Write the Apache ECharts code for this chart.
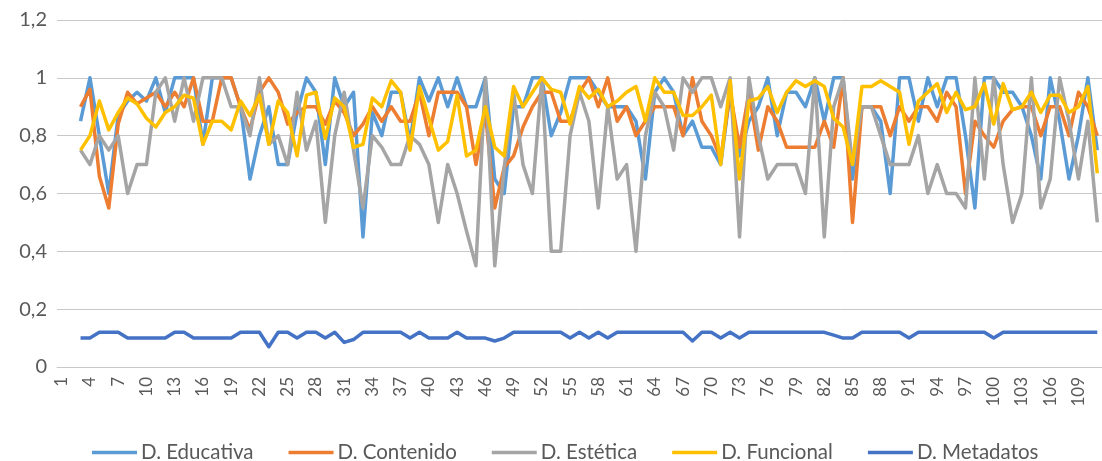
<!DOCTYPE html>
<html>
<head>
<meta charset="utf-8">
<script src="https://cdn.jsdelivr.net/npm/echarts@6/dist/echarts.min.js"></script>
<style>
  html, body { margin: 0; padding: 0; background: #fff; }
  #main { width: 1102px; height: 461px; }
</style>
</head>
<body>
<div id="main"></div>
<script>
// categorias 1..111 (las dos primeras sin datos)
var categorias = Array.from({ length: 111 }, function (_, i) { return String(i + 1); });

var educativa = [null, null,
  0.85,1.0,0.8,0.6,0.87,0.92,0.95,0.92,1.0,0.88,
  1.0,1.0,1.0,0.77,1.0,1.0,1.0,0.9,0.65,0.8,
  0.9,0.7,0.7,0.88,1.0,0.95,0.7,1.0,0.9,0.95,
  0.45,0.88,0.8,0.95,0.95,0.78,1.0,0.92,1.0,0.9,
  1.0,0.9,0.9,1.0,0.65,0.6,0.9,0.9,1.0,1.0,
  0.8,0.88,1.0,1.0,1.0,0.95,0.9,0.9,0.9,0.85,
  0.65,0.95,1.0,0.95,0.8,0.85,0.76,0.76,0.7,0.95,
  0.73,0.85,0.9,1.0,0.8,0.95,0.95,0.9,1.0,0.85,
  1.0,1.0,0.65,0.9,0.9,0.85,0.6,1.0,1.0,0.85,
  1.0,0.9,1.0,1.0,0.8,0.55,1.0,1.0,0.95,0.95,
  0.9,0.8,0.65,1.0,0.85,0.65,0.8,1.0,0.75];

var contenido = [null, null,
  0.9,0.96,0.66,0.55,0.84,0.95,0.91,0.93,0.95,0.9,
  0.95,0.9,1.0,0.85,0.85,1.0,1.0,0.9,0.82,0.95,
  1.0,0.95,0.84,0.88,0.9,0.9,0.84,0.92,0.88,0.8,
  0.84,0.9,0.85,0.9,0.85,0.85,0.95,0.8,0.95,0.95,
  0.95,0.9,0.7,0.88,0.55,0.69,0.73,0.83,0.9,0.95,
  0.95,0.85,0.85,0.95,1.0,0.9,1.0,0.85,0.9,0.8,
  0.85,0.9,0.9,0.9,0.8,1.0,0.85,0.8,0.72,0.95,
  0.76,0.95,0.75,0.9,0.85,0.76,0.76,0.76,0.76,0.85,
  0.76,1.0,0.5,0.9,0.9,0.9,0.8,0.9,0.85,0.9,
  0.9,0.85,0.95,0.9,0.6,0.85,0.8,0.76,0.85,0.89,
  0.9,0.9,0.8,0.9,0.9,0.8,0.95,0.9,0.8];

var estetica = [null, null,
  0.75,0.7,0.8,0.75,0.8,0.6,0.7,0.7,0.95,1.0,
  0.85,1.0,0.85,1.0,1.0,1.0,0.9,0.9,0.8,1.0,
  0.77,0.8,0.7,0.95,0.75,0.85,0.5,0.8,0.95,0.75,
  0.55,0.8,0.76,0.7,0.7,0.8,0.77,0.7,0.5,0.7,
  0.6,0.47,0.35,1.0,0.35,0.69,0.95,0.7,0.6,1.0,
  0.4,0.4,0.8,0.95,0.85,0.55,0.9,0.65,0.7,0.4,
  0.8,0.95,0.9,0.75,1.0,0.95,1.0,1.0,0.9,1.0,
  0.45,1.0,0.8,0.65,0.7,0.7,0.7,0.6,1.0,0.45,
  0.9,1.0,0.7,0.9,0.9,0.8,0.7,0.7,0.7,0.8,
  0.6,0.7,0.6,0.6,0.55,1.0,0.65,1.0,0.7,0.5,
  0.6,1.0,0.55,0.65,1.0,0.85,0.65,0.85,0.5];

var funcional = [null, null,
  0.75,0.8,0.92,0.82,0.88,0.93,0.91,0.86,0.83,0.88,
  0.9,0.94,0.93,0.77,0.85,0.85,0.82,0.92,0.87,0.94,
  0.77,0.92,0.88,0.73,0.94,0.95,0.79,0.93,0.9,0.76,
  0.77,0.93,0.9,0.99,0.95,0.75,0.97,0.86,0.75,0.78,
  0.94,0.73,0.75,0.9,0.76,0.73,0.97,0.9,0.95,1.0,
  0.96,0.95,0.84,0.97,0.93,0.96,0.9,0.92,0.95,0.97,
  0.85,1.0,0.95,0.95,0.87,0.87,0.9,0.94,0.7,0.99,
  0.65,0.92,0.93,0.97,0.88,0.95,0.99,0.97,0.99,0.97,
  0.86,0.83,0.7,0.97,0.97,0.99,0.97,0.95,0.77,0.92,
  0.95,0.98,0.88,0.95,0.89,0.9,0.98,0.84,0.98,0.89,
  0.9,0.95,0.88,0.94,0.94,0.88,0.9,0.97,0.67];

var metadatos = [null, null,
  0.1,0.1,0.12,0.12,0.12,0.1,0.1,0.1,0.1,0.1,
  0.12,0.12,0.1,0.1,0.1,0.1,0.1,0.12,0.12,0.12,
  0.07,0.12,0.12,0.1,0.12,0.12,0.1,0.12,0.085,0.095,
  0.12,0.12,0.12,0.12,0.12,0.1,0.12,0.1,0.1,0.1,
  0.12,0.1,0.1,0.1,0.09,0.1,0.12,0.12,0.12,0.12,
  0.12,0.12,0.1,0.12,0.1,0.12,0.1,0.12,0.12,0.12,
  0.12,0.12,0.12,0.12,0.12,0.09,0.12,0.12,0.1,0.12,
  0.1,0.12,0.12,0.12,0.12,0.12,0.12,0.12,0.12,0.12,
  0.11,0.1,0.1,0.12,0.12,0.12,0.12,0.12,0.1,0.12,
  0.12,0.12,0.12,0.12,0.12,0.12,0.12,0.1,0.12,0.12,
  0.12,0.12,0.12,0.12,0.12,0.12,0.12,0.12,0.12];

var nombres = ['D. Educativa', 'D. Contenido', 'D. Estética', 'D. Funcional', 'D. Metadatos'];
var colores = ['#5B9BD5', '#ED7D31', '#A5A5A5', '#FFC000', '#4472C4'];
var valores = [educativa, contenido, estetica, funcional, metadatos];

var fuente = 'Lato, "Open Sans", sans-serif';

var myChart = echarts.init(document.getElementById('main'));

var series = nombres.map(function (n, i) {
  return {
    name: n,
    type: 'line',
    data: valores[i],
    symbol: 'none',
    smooth: false,
    animation: false,
    lineStyle: { color: colores[i], width: 3.5, join: 'round' },
    itemStyle: { color: colores[i] }
  };
});

myChart.setOption({
  animation: false,
  color: colores,
  grid: { left: 57, top: 20, width: 1049, height: 347, containLabel: false },
  legend: {
    data: nombres,
    left: 92,
    top: 442,
    padding: 0,
    icon: 'rect',
    itemWidth: 45,
    itemHeight: 3.5,
    itemGap: 35,
    textStyle: { fontFamily: fuente, fontSize: 20.5, color: '#595959', padding: [0, 0, 0, -1] }
  },
  xAxis: {
    type: 'category',
    data: categorias,
    boundaryGap: true,
    axisLine: { show: true, lineStyle: { color: '#C8C8C8', width: 1 } },
    axisTick: { show: false },
    axisLabel: {
      interval: 2,
      rotate: 90,
      margin: 10,
      fontFamily: fuente,
      fontSize: 17,
      color: '#595959'
    }
  },
  yAxis: {
    type: 'value',
    min: 0,
    max: 1.2,
    interval: 0.2,
    axisLine: { show: false },
    axisTick: { show: false },
    splitLine: { lineStyle: { color: '#C8C8C8', width: 1 } },
    axisLabel: {
      margin: 10,
      fontFamily: fuente,
      fontSize: 20,
      color: '#595959',
      formatter: function (v) { return String(Math.round(v * 10) / 10).replace('.', ','); }
    }
  },
  series: series
});
</script>
</body>
</html>
